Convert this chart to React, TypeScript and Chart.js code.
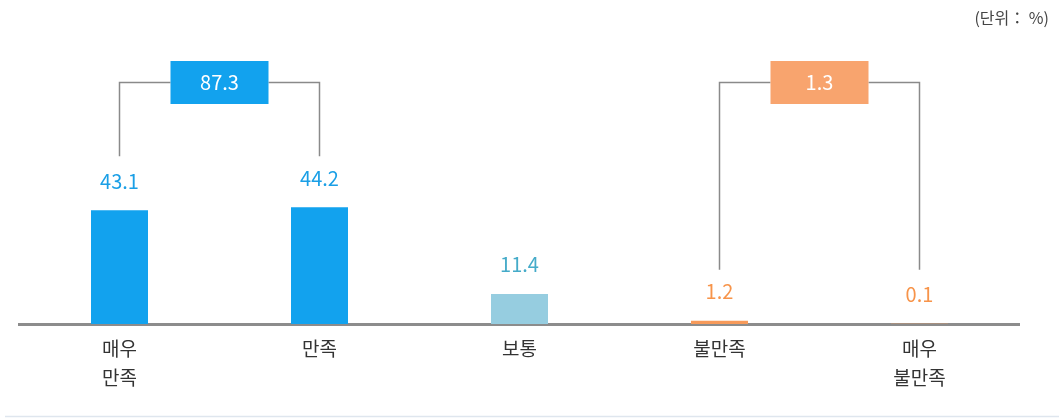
import React, { useEffect, useRef } from "react";
import { Chart, registerables } from "chart.js";

Chart.register(...registerables);

const categories: string[][] = [["매우", "만족"], ["만족"], ["보통"], ["불만족"], ["매우", "불만족"]];
const values: number[] = [43.1, 44.2, 11.4, 1.2, 0.1];
const barColors: string[] = ["#12a2ee", "#12a2ee", "#96cde0", "#f79a5a", "#f79a5a"];
const labelColors: string[] = ["#1a9fe6", "#1a9fe6", "#45abc9", "#f7944a", "#f7944a"];
const groupTotals: { from: number; to: number; label: string; color: string }[] = [
  { from: 0, to: 1, label: "87.3", color: "#12a2ee" },
  { from: 3, to: 4, label: "1.3", color: "#f8a46e" },
];
const unitText = "(단위： %)";
const FONT = "'Noto Sans CJK KR', 'Noto Sans', sans-serif";

const overlay = {
  id: "overlay",
  afterDatasetsDraw(chart: any) {
    const ctx = chart.ctx as CanvasRenderingContext2D;
    const meta = chart.getDatasetMeta(0);
    ctx.save();
    // value labels
    ctx.font = `20px ${FONT}`;
    ctx.textAlign = "center";
    ctx.textBaseline = "middle";
    meta.data.forEach((bar: any, i: number) => {
      ctx.fillStyle = labelColors[i];
      ctx.fillText(String(values[i]), bar.x, bar.y - 29);
    });
    // brackets
    groupTotals.forEach((g) => {
      const a = meta.data[g.from];
      const b = meta.data[g.to];
      const top = Math.min(a.y, b.y) - 51;
      const lineY = 82.5;
      const bw = 98;
      const bh = 43;
      const cx = (a.x + b.x) / 2;
      ctx.strokeStyle = "#8a8a8a";
      ctx.lineWidth = 1.5;
      ctx.beginPath();
      ctx.moveTo(a.x, top);
      ctx.lineTo(a.x, lineY);
      ctx.lineTo(cx - bw / 2, lineY);
      ctx.moveTo(cx + bw / 2, lineY);
      ctx.lineTo(b.x, lineY);
      ctx.lineTo(b.x, top);
      ctx.stroke();
      ctx.fillStyle = g.color;
      ctx.fillRect(cx - bw / 2, lineY - bh / 2, bw, bh);
      ctx.fillStyle = "#ffffff";
      ctx.font = `20px ${FONT}`;
      ctx.fillText(g.label, cx, lineY);
    });
    // unit text
    ctx.fillStyle = "#444444";
    ctx.font = `16px ${FONT}`;
    ctx.textAlign = "right";
    ctx.fillText(unitText, 1049, 18);
    // bottom rule
    ctx.strokeStyle = "#dfe6ee";
    ctx.lineWidth = 1.5;
    ctx.beginPath();
    ctx.moveTo(5, 416.5);
    ctx.lineTo(1059, 416.5);
    ctx.stroke();
    ctx.restore();
  },
};

export default function App() {
  const ref = useRef<HTMLCanvasElement | null>(null);
  useEffect(() => {
    if (!ref.current) return;
    const chart = new Chart(ref.current, {
      type: "bar",
      data: {
        labels: categories,
        datasets: [
          {
            data: values,
            backgroundColor: barColors,
            barPercentage: 0.285,
            categoryPercentage: 1,
          },
        ],
      },
      options: {
        animation: false,
        responsive: false,
        maintainAspectRatio: false,
        layout: { padding: { left: 19.5, right: 39.5, top: 60, bottom: 15 } },
        plugins: { legend: { display: false }, tooltip: { enabled: false } },
        scales: {
          y: { display: false, min: 0, max: 100 },
          x: {
            grid: { display: false, drawTicks: false },
            border: { display: true, color: "#8c8c8c", width: 3 },
            ticks: {
              color: "#333333",
              font: { family: FONT, size: 19, lineHeight: 1.5 },
              padding: 11,
              maxRotation: 0,
              autoSkip: false,
            },
          },
        },
      },
      plugins: [overlay],
    });
    return () => chart.destroy();
  }, []);
  return (
    <div style={{ position: "fixed", left: 0, top: 0, width: 1059, height: 418, background: "#fff" }}>
      <canvas ref={ref} width={1059} height={418} style={{ width: 1059, height: 418 }} />
    </div>
  );
}
